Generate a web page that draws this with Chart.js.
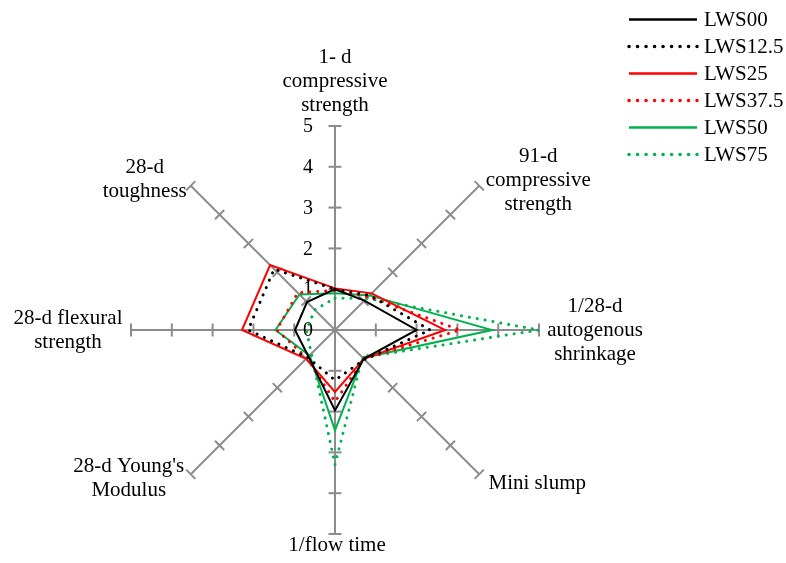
<!DOCTYPE html>
<html>
<head>
<meta charset="utf-8">
<script src="https://cdn.jsdelivr.net/npm/chart.js@4.4.1/dist/chart.umd.min.js"></script>
<style>
  html, body { margin: 0; padding: 0; background: #fff; }
</style>
</head>
<body>
<canvas id="myChart" width="786" height="563"></canvas>
<script>
// axes, clockwise from the top
var axisLabels = [
  ['1- d', 'compressive', 'strength'],
  ['91-d', 'compressive', 'strength'],
  ['1/28-d', 'autogenous', 'shrinkage'],
  ['Mini slump'],
  ['1/flow time'],
  ["28-d Young's", 'Modulus'],
  ['28-d flexural', 'strength'],
  ['28-d', 'toughness']
];
var tickValues = [0, 1, 2, 3, 4, 5];
var seriesNames = ['LWS00', 'LWS12.5', 'LWS25', 'LWS37.5', 'LWS50', 'LWS75'];

var lws00  = [1.00, 1.02, 2.00, 1.00, 1.97, 0.92, 0.98, 0.97];
var lws125 = [1.00, 1.20, 2.33, 1.02, 1.23, 0.95, 2.13, 2.11];
var lws25  = [1.02, 1.27, 2.70, 1.00, 1.52, 1.00, 2.28, 2.25];
var lws375 = [0.97, 1.15, 3.07, 1.00, 1.76, 0.97, 1.43, 1.29];
var lws50  = [0.90, 1.20, 3.85, 0.97, 2.46, 0.88, 1.46, 1.23];
var lws75  = [0.78, 1.10, 5.00, 0.95, 3.30, 0.82, 0.70, 0.70];

var axisGray = '#8c8c8c';
var serif = "'Liberation Serif', 'Times New Roman', serif";
var dots = [0.1, 7.9];

// where each label block sits, relative to the end of its axis
var labelOffsets = [[0, -45], [59, -5], [56, 0], [58, 9], [2, 11], [-62, 4], [-63, 0], [-46, -6]];

function serie(name, data, color, dotted) {
  return {
    label: name,
    data: data,
    borderColor: color,
    backgroundColor: color,
    borderWidth: dotted ? 3 : 2,
    borderDash: dotted ? dots : [],
    borderCapStyle: dotted ? 'round' : 'butt',
    borderJoinStyle: 'miter',
    fill: false,
    pointRadius: 0,
    tension: 0
  };
}

var radarDecor = {
  id: 'radarDecor',
  beforeDatasetsDraw: function(chart) {
    var ctx = chart.ctx;
    var r = chart.scales.r;
    ctx.save();
    // small cross marks on every axis
    ctx.strokeStyle = axisGray;
    ctx.lineWidth = 2;
    for (var i = 0; i < axisLabels.length; i++) {
      for (var t = 1; t < tickValues.length; t++) {
        var p = r.getPointPositionForValue(i, tickValues[t]);
        var nx = -Math.sin(p.angle) * 6.5, ny = Math.cos(p.angle) * 6.5;
        ctx.beginPath();
        ctx.moveTo(p.x - nx, p.y - ny);
        ctx.lineTo(p.x + nx, p.y + ny);
        ctx.stroke();
      }
    }
    // scale numbers
    ctx.fillStyle = '#000';
    ctx.font = '20px ' + serif;
    ctx.textAlign = 'center';
    ctx.textBaseline = 'middle';
    tickValues.forEach(function(v) {
      var p = r.getPointPositionForValue(0, v);
      ctx.fillText(String(v), r.xCenter - 27, p.y + 1);
    });
    // axis names
    ctx.font = '21px ' + serif;
    for (var j = 0; j < axisLabels.length; j++) {
      var end = r.getPointPositionForValue(j, 5);
      var lines = axisLabels[j];
      for (var k = 0; k < lines.length; k++) {
        var y = end.y + labelOffsets[j][1] + (k - (lines.length - 1) / 2) * 24;
        ctx.fillText(lines[k], end.x + labelOffsets[j][0], y);
      }
    }
    ctx.restore();
  },
  afterDraw: function(chart) {
    var ctx = chart.ctx;
    ctx.save();
    ctx.font = '21px ' + serif;
    ctx.textAlign = 'left';
    ctx.textBaseline = 'middle';
    chart.data.datasets.forEach(function(ds, i) {
      var y = 19.5 + i * 27;
      ctx.strokeStyle = ds.borderColor;
      ctx.lineWidth = ds.borderWidth + 0.5;
      ctx.lineCap = ds.borderCapStyle;
      ctx.setLineDash(ds.borderDash.length ? [0.1, 8.4] : []);
      ctx.beginPath();
      ctx.moveTo(629, y);
      ctx.lineTo(697, y);
      ctx.stroke();
      ctx.setLineDash([]);
      ctx.fillStyle = '#000';
      ctx.fillText(ds.label, 704, y + 1);
    });
    ctx.restore();
  }
};

var ctx = document.getElementById('myChart');
var myChart = new Chart(ctx, {
  type: 'radar',
  data: {
    labels: axisLabels,
    datasets: [
      serie(seriesNames[0], lws00, '#000000', false),
      serie(seriesNames[1], lws125, '#000000', true),
      serie(seriesNames[2], lws25, '#ff0000', false),
      serie(seriesNames[3], lws375, '#ff0000', true),
      serie(seriesNames[4], lws50, '#00b050', false),
      serie(seriesNames[5], lws75, '#00b050', true)
    ]
  },
  options: {
    responsive: false,
    animation: false,
    layout: { padding: { left: 131, top: 126, right: 247, bottom: 29 } },
    plugins: {
      legend: { display: false },
      tooltip: { enabled: false }
    },
    scales: {
      r: {
        min: 0,
        max: 5,
        ticks: { display: false, stepSize: 1 },
        grid: { display: false },
        angleLines: { display: true, color: axisGray, lineWidth: 2 },
        pointLabels: { display: false }
      }
    }
  },
  plugins: [radarDecor]
});
</script>
</body>
</html>
